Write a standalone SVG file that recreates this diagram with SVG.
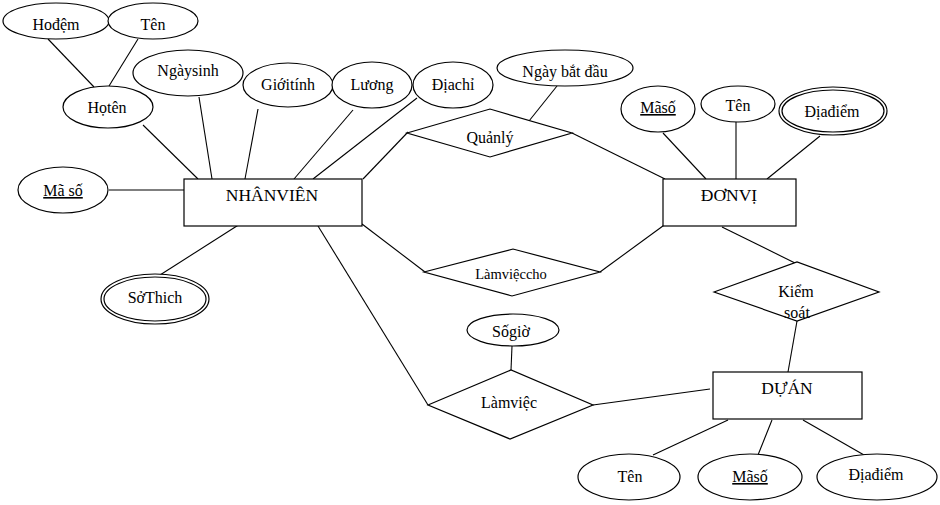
<svg xmlns="http://www.w3.org/2000/svg" width="940" height="505" viewBox="0 0 940 505">
<style>
.s{fill:#fff;stroke:#000;stroke-width:1.2}
.l{stroke:#000;stroke-width:1.1;fill:none}
.t{font-family:'Liberation Serif',serif;font-size:16px;fill:#000;text-anchor:middle}
.e{font-size:17.5px}
.u{text-decoration:underline}
</style>
<rect width="940" height="505" fill="#fff"/>
<g id="connectors">
<line class="l" x1="48" y1="39" x2="94" y2="87"/>
<line class="l" x1="138" y1="39" x2="109" y2="86"/>
<line class="l" x1="143" y1="125" x2="198" y2="179"/>
<line class="l" x1="199" y1="97" x2="212" y2="179"/>
<line class="l" x1="258" y1="109" x2="245" y2="179"/>
<line class="l" x1="353" y1="110" x2="294" y2="179"/>
<line class="l" x1="417" y1="98" x2="313" y2="179"/>
<line class="l" x1="408" y1="132" x2="363" y2="179"/>
<line class="l" x1="572" y1="133" x2="665" y2="179"/>
<line class="l" x1="557" y1="86" x2="529" y2="121"/>
<line class="l" x1="663" y1="133" x2="706" y2="179"/>
<line class="l" x1="736" y1="122" x2="736" y2="179"/>
<line class="l" x1="820" y1="136" x2="767" y2="179"/>
<line class="l" x1="109" y1="190" x2="184" y2="190"/>
<line class="l" x1="160" y1="275" x2="240" y2="224"/>
<line class="l" x1="362" y1="224" x2="425" y2="272"/>
<line class="l" x1="600" y1="272" x2="667" y2="223"/>
<line class="l" x1="722" y1="227" x2="795" y2="263"/>
<line class="l" x1="797" y1="321" x2="788" y2="372"/>
<line class="l" x1="318" y1="226" x2="428" y2="405"/>
<line class="l" x1="512" y1="346" x2="511" y2="370"/>
<line class="l" x1="593" y1="405" x2="710" y2="389"/>
<line class="l" x1="728" y1="420" x2="653" y2="455"/>
<line class="l" x1="772" y1="420" x2="758" y2="455"/>
<line class="l" x1="803" y1="420" x2="864" y2="455"/>
</g>
<g id="hodem"><ellipse class="s" cx="56" cy="21" rx="53" ry="18"/><text class="t" font-family="Liberation Serif" x="56" y="30">Hođệm</text></g>
<g id="ten1"><ellipse class="s" cx="153" cy="21" rx="45" ry="18"/><text class="t" font-family="Liberation Serif" x="153" y="30">Tên</text></g>
<g id="hoten"><ellipse class="s" cx="108" cy="107" rx="45" ry="21"/><text class="t" font-family="Liberation Serif" x="107" y="113">Họtên</text></g>
<g id="ngaysinh"><ellipse class="s" cx="188" cy="73" rx="55" ry="23"/><text class="t" font-family="Liberation Serif" x="188" y="76">Ngàysinh</text></g>
<g id="gioitinh"><ellipse class="s" cx="288" cy="85" rx="45" ry="22"/><text class="t" font-family="Liberation Serif" x="288" y="90">Giớitính</text></g>
<g id="luong"><ellipse class="s" cx="372" cy="85" rx="40" ry="23"/><text class="t" font-family="Liberation Serif" x="372" y="90">Lương</text></g>
<g id="diachi"><ellipse class="s" cx="453" cy="85" rx="40" ry="23"/><text class="t" font-family="Liberation Serif" x="453" y="90">Địachỉ</text></g>
<g id="ngaybatdau"><ellipse class="s" cx="565" cy="68" rx="68" ry="18"/><text class="t" font-family="Liberation Serif" x="565" y="77">Ngày bắt đầu</text></g>
<g id="quanly"><polygon class="s" points="407,133 490,109 572,133 490,157"/><text class="t" font-family="Liberation Serif" x="490" y="143">Quảnlý</text></g>
<g id="maso2"><ellipse class="s" cx="658" cy="109" rx="37" ry="23"/><text class="t u" font-family="Liberation Serif" x="658" y="113">Mãsố</text></g>
<g id="ten2"><ellipse class="s" cx="738" cy="104" rx="37" ry="18"/><text class="t" font-family="Liberation Serif" x="738" y="111">Tên</text></g>
<g id="diadiem1"><ellipse class="s" cx="833" cy="111" rx="54" ry="24"/><ellipse class="s" cx="833" cy="111" rx="51" ry="21"/><text class="t" font-family="Liberation Serif" x="832" y="117">Địađiểm</text></g>
<g id="donvi"><rect class="s" x="663" y="179" width="133" height="47"/><text class="t e" font-family="Liberation Serif" x="729" y="201">ĐƠNVỊ</text></g>
<g id="nhanvien"><rect class="s" x="184" y="179" width="178" height="47"/><text class="t e" font-family="Liberation Serif" x="272" y="201">NHÂNVIÊN</text></g>
<g id="maso1"><ellipse class="s" cx="63" cy="190" rx="45" ry="23"/><text class="t u" font-family="Liberation Serif" x="63" y="196">Mã số</text></g>
<g id="sothich"><ellipse class="s" cx="155" cy="299" rx="54" ry="25"/><ellipse class="s" cx="155" cy="299" rx="51" ry="22"/><text class="t" font-family="Liberation Serif" x="155" y="303">SởThich</text></g>
<g id="lamviecccho"><polygon class="s" points="424,272 513,249 600,272 512,296"/><text class="t" font-family="Liberation Serif" x="511" y="279" style="font-size:14.5px">Làmviệccho</text></g>
<g id="sogio"><ellipse class="s" cx="513" cy="330" rx="46" ry="16"/><text class="t" font-family="Liberation Serif" x="511" y="337">Sốgiờ</text></g>
<g id="lamviec"><polygon class="s" points="428,405 511,370 593,405 510,439"/><text class="t" font-family="Liberation Serif" x="509" y="408">Làmviệc</text></g>
<g id="kiemsoat"><polygon class="s" points="714,292 797,262 879,292 797,321"/><text class="t" font-family="Liberation Serif" x="796" y="297">Kiểm</text><text class="t" font-family="Liberation Serif" x="797" y="318">soát</text></g>
<g id="duan"><rect class="s" x="713" y="372" width="149" height="47"/><text class="t e" font-family="Liberation Serif" x="787" y="394">DỰÁN</text></g>
<g id="ten3"><ellipse class="s" cx="629" cy="477" rx="51" ry="23"/><text class="t" font-family="Liberation Serif" x="630" y="482">Tên</text></g>
<g id="maso3"><ellipse class="s" cx="750" cy="477" rx="52" ry="23"/><text class="t u" font-family="Liberation Serif" x="750" y="482">Mãsố</text></g>
<g id="diadiem2"><ellipse class="s" cx="877" cy="477" rx="60" ry="23"/><text class="t" font-family="Liberation Serif" x="876" y="480">Địađiểm</text></g>
</svg>
